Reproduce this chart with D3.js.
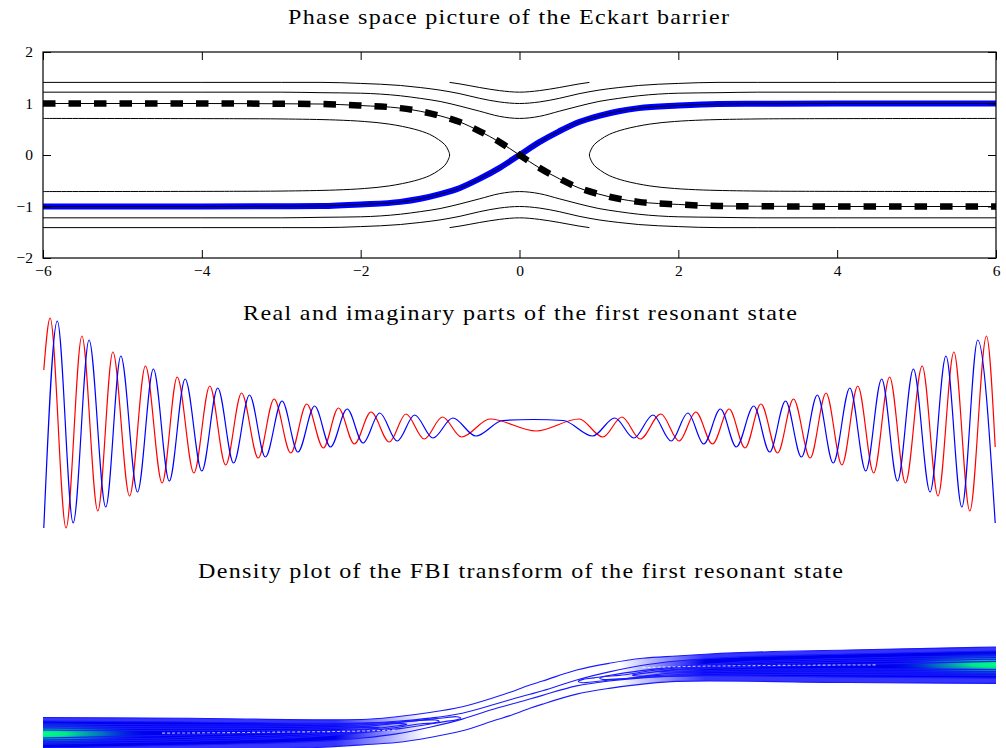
<!DOCTYPE html>
<html>
<head>
<meta charset="utf-8">
<script src="https://cdn.jsdelivr.net/npm/d3@7"></script>
<style>
  body { margin: 0; background: white; }
  text { font-family: "Liberation Serif", "Times New Roman", serif; }
</style>
</head>
<body>
<div id="chart"></div>
<script>
// ---------- panel 1: phase space of the Eckart barrier ----------
// x positions where the level curves were read off
const phaseX = [-6, -4, -3, -2.5, -2, -1.5, -1.25, -1, -0.75, -0.5, -0.25, 0, 0.25, 0.5, 0.75, 1, 1.25, 1.5, 2, 2.5, 3, 4, 6];
const levelHighUp = [1.41, 1.41, 1.41, 1.41, 1.39, 1.35, 1.31, 1.26, 1.19, 1.10, 1.03, 1.00, 1.03, 1.10, 1.19, 1.26, 1.31, 1.35, 1.39, 1.41, 1.41, 1.41, 1.41];
const levelHighDown = [-1.41, -1.41, -1.41, -1.41, -1.39, -1.35, -1.31, -1.26, -1.19, -1.10, -1.03, -1.00, -1.03, -1.10, -1.19, -1.26, -1.31, -1.35, -1.39, -1.41, -1.41, -1.41, -1.41];
const levelMidUp = [1.22, 1.22, 1.22, 1.21, 1.20, 1.15, 1.10, 1.04, 0.95, 0.85, 0.75, 0.71, 0.75, 0.85, 0.95, 1.04, 1.10, 1.15, 1.20, 1.21, 1.22, 1.22, 1.22];
const levelMidDown = [-1.22, -1.22, -1.22, -1.21, -1.20, -1.15, -1.10, -1.04, -0.95, -0.85, -0.75, -0.71, -0.75, -0.85, -0.95, -1.04, -1.10, -1.15, -1.20, -1.21, -1.22, -1.22, -1.22];
// separatrix: the blue branch goes up, the dashed one goes down
const sepUp = [-1.00, -1.00, -0.995, -0.99, -0.96, -0.91, -0.85, -0.76, -0.64, -0.46, -0.25, 0, 0.25, 0.46, 0.64, 0.76, 0.85, 0.91, 0.96, 0.99, 0.995, 1.00, 1.00];
const sepDown = [1.00, 1.00, 0.995, 0.99, 0.96, 0.91, 0.85, 0.76, 0.64, 0.46, 0.25, 0, -0.25, -0.46, -0.64, -0.76, -0.85, -0.91, -0.96, -0.99, -0.995, -1.00, -1.00];
// short arcs above / below the barrier top
const hatX = [-0.88, -0.75, -0.5, -0.25, 0, 0.25, 0.5, 0.75, 0.88];
const hatUp = [1.41, 1.38, 1.31, 1.25, 1.22, 1.25, 1.31, 1.38, 1.41];
const hatDown = [-1.41, -1.38, -1.31, -1.25, -1.22, -1.25, -1.31, -1.38, -1.41];
// reflected orbits (closed lenses on each side)
const lensXi = [0.71, 0.705, 0.70, 0.68, 0.65, 0.60, 0.50, 0.40, 0.30, 0.20, 0.10, 0, -0.10, -0.20, -0.30, -0.40, -0.50, -0.60, -0.65, -0.68, -0.70, -0.705, -0.71];
const lensRightX = [6, 3.60, 2.99, 2.32, 1.95, 1.64, 1.32, 1.13, 1.02, 0.94, 0.90, 0.88, 0.90, 0.94, 1.02, 1.13, 1.32, 1.64, 1.95, 2.32, 2.99, 3.60, 6];
const lensLeftX = [-6, -3.60, -2.99, -2.32, -1.95, -1.64, -1.32, -1.13, -1.02, -0.94, -0.90, -0.88, -0.90, -0.94, -1.02, -1.13, -1.32, -1.64, -1.95, -2.32, -2.99, -3.60, -6];
const xTicks = [-6, -4, -2, 0, 2, 4, 6];
const yTicks = [-2, -1, 0, 1, 2];

const redX = [-5.99, -5.91, -5.71, -5.51, -5.31, -5.12, -4.91, -4.71, -4.50, -4.31, -4.10, -3.90, -3.70, -3.50, -3.29, -3.09, -2.88, -2.68, -2.47, -2.28, -2.08, -1.87, -1.64, -1.43, -1.20, -0.97, -0.73, -0.37, 0.21, 0.75, 1.05, 1.29, 1.52, 1.78, 2.01, 2.22, 2.43, 2.64, 2.84, 3.04, 3.25, 3.45, 3.66, 3.86, 4.06, 4.26, 4.46, 4.66, 4.86, 5.07, 5.27, 5.47, 5.67, 5.88, 5.99];
const redY = [0.57, 1.09, -1.01, 0.91, -0.84, 0.75, -0.69, 0.61, -0.56, 0.50, -0.46, 0.41, -0.38, 0.34, -0.31, 0.28, -0.26, 0.23, -0.21, 0.19, -0.17, 0.15, -0.15, 0.13, -0.12, 0.10, -0.10, 0.08, -0.04, 0.08, -0.10, 0.10, -0.12, 0.13, -0.14, 0.15, -0.17, 0.18, -0.21, 0.23, -0.26, 0.28, -0.31, 0.34, -0.38, 0.41, -0.46, 0.50, -0.56, 0.61, -0.69, 0.75, -0.84, 0.91, -0.20];
const blueX = [-5.99, -5.82, -5.62, -5.42, -5.21, -5.02, -4.81, -4.61, -4.41, -4.21, -4.00, -3.80, -3.60, -3.40, -3.20, -2.99, -2.79, -2.58, -2.38, -2.17, -1.97, -1.76, -1.54, -1.32, -1.09, -0.84, -0.55, -0.21, 0.17, 0.55, 0.92, 1.20, 1.44, 1.68, 1.91, 2.12, 2.32, 2.53, 2.73, 2.95, 3.15, 3.35, 3.55, 3.75, 3.95, 4.16, 4.36, 4.56, 4.76, 4.96, 5.17, 5.37, 5.57, 5.77, 5.99];
const blueY = [-1.01, 1.06, -0.96, 0.87, -0.80, 0.71, -0.65, 0.58, -0.54, 0.48, -0.44, 0.39, -0.36, 0.32, -0.30, 0.26, -0.25, 0.21, -0.20, 0.18, -0.16, 0.14, -0.14, 0.12, -0.11, 0.09, -0.09, 0.065, 0.075, 0.065, -0.09, 0.09, -0.11, 0.12, -0.14, 0.14, -0.17, 0.18, -0.20, 0.21, -0.25, 0.26, -0.30, 0.32, -0.36, 0.39, -0.44, 0.48, -0.54, 0.58, -0.65, 0.71, -0.80, 0.87, -0.96];

// ---------- panel 3: FBI transform density ----------
const bandX = [-6, -4.15, -2.39, -1.98, -1.55, -1.13, -0.72, -0.29, -0.13, 0.13, 0.29, 0.72, 1.13, 1.55, 1.98, 2.39, 4.15, 6];
const outerTop = [-0.543, -0.566, -0.61, -0.60, -0.52, -0.40, -0.234, 0.051, 0.17, 0.386, 0.50, 0.814, 1.006, 1.149, 1.214, 1.271, 1.386, 1.471];
const outerBottom = [-1.581, -1.496, -1.381, -1.324, -1.259, -1.116, -0.924, -0.61, -0.496, -0.28, -0.161, 0.124, 0.29, 0.41, 0.49, 0.50, 0.456, 0.433];
const innerTop = [-0.643, -0.671, -0.71, -0.70, -0.65, -0.56, -0.42, -0.15, -0.043, 0.12, 0.22, 0.53, 0.76, 0.95, 1.07, 1.143, 1.271, 1.357];
const innerBottom = [-1.417, -1.331, -1.203, -1.13, -1.01, -0.82, -0.59, -0.28, -0.18, -0.017, 0.09, 0.36, 0.50, 0.59, 0.64, 0.65, 0.611, 0.583];
// tongue shaped contours, each runs in from the edge, turns at its tip and goes back
const tongueLeftX = [
  [-6, -2.77, -1.51, -0.94, -0.79, -0.74, -0.79, -0.94, -1.51, -2.77, -6],
  [-6, -2.77, -1.76, -1.26, -1.06, -1.01, -1.06, -1.26, -1.76, -2.77, -6],
  [-6, -2.77, -1.89, -1.53, -1.42, -1.53, -1.89, -2.77, -6],
  [-6, -2.77, -2.01, -1.76, -2.01, -2.77, -6]
];
const tongueLeftXi = [
  [-0.73, -0.75, -0.67, -0.55, -0.52, -0.56, -0.61, -0.66, -0.86, -1.11, -1.30],
  [-0.79, -0.80, -0.73, -0.63, -0.615, -0.65, -0.69, -0.73, -0.89, -1.07, -1.24],
  [-0.84, -0.85, -0.79, -0.71, -0.74, -0.78, -0.88, -1.02, -1.19],
  [-0.90, -0.90, -0.83, -0.83, -0.89, -0.96, -1.13]
];
const tongueRightX = [
  [6, 2.77, 1.51, 0.94, 0.79, 0.74, 0.79, 0.94, 1.51, 2.77, 6],
  [6, 2.77, 1.76, 1.26, 1.06, 1.01, 1.06, 1.26, 1.76, 2.77, 6],
  [6, 2.77, 1.89, 1.53, 1.42, 1.53, 1.89, 2.77, 6],
  [6, 2.77, 2.01, 1.76, 2.01, 2.77, 6]
];
const tongueRightXi = [
  [0.66, 0.68, 0.60, 0.48, 0.45, 0.49, 0.54, 0.59, 0.79, 1.04, 1.23],
  [0.72, 0.73, 0.66, 0.56, 0.545, 0.58, 0.62, 0.66, 0.82, 1.00, 1.17],
  [0.77, 0.78, 0.72, 0.64, 0.67, 0.71, 0.81, 0.95, 1.12],
  [0.83, 0.83, 0.76, 0.76, 0.82, 0.89, 1.06]
];
const ridgeLeftX = [-4.5, -3, -2, -1.55];
const ridgeLeftXi = [-0.99, -0.96, -0.93, -0.90];
const ridgeRightX = [1.55, 2, 3, 4.5];
const ridgeRightXi = [0.88, 0.91, 0.94, 0.96];
// where the density peaks (green) at both ends
const peakX = [-6, 6];
const peakXi = [-1.01, 0.97];

// ---------- layout ----------
let width = 1006, height = 748;
let left = 43, right = 996;

let svg = d3.select('#chart')
            .append('svg')
            .attr('width', width)
            .attr('height', height)
            .style('background', 'white');

const defs = svg.append('defs');

const x = d3.scaleLinear().domain([-6, 6]).range([left, right]);
const y1 = d3.scaleLinear().domain([-2, 2]).range([258, 52]);
const y2 = d3.scaleLinear().domain([-1, 1]).range([527, 327]);
const y3 = d3.scaleLinear().domain([-1, 1]).range([733.5, 663.5]);

const pts = (xs, ys) => xs.map((v, i) => [v, ys[i]]);

// titles: glyphs widened a little (the original font is wider), rest made up by spacing
const stretch = 1.12;
function title(str, x0, base, len) {
  svg.append('text')
     .attr('transform', `scale(${stretch},1)`)
     .attr('x', x0 / stretch)
     .attr('y', base)
     .attr('font-size', 21.5)
     .attr('textLength', len / stretch)
     .attr('lengthAdjust', 'spacing')
     .text(str);
}
title('Phase space picture of the Eckart barrier', 288, 24, 441);
title('Real and imaginary parts of the first resonant state', 243, 320, 554);
title('Density plot of the FBI transform of the first resonant state', 198, 578, 645);

// ---------- panel 1 ----------
defs.append('clipPath').attr('id', 'clip1')
    .append('rect')
    .attr('x', left).attr('y', 52)
    .attr('width', right - left).attr('height', 206);

const line1 = d3.line()
                .x(d => x(d[0]))
                .y(d => y1(d[1]))
                .curve(d3.curveMonotoneX);
const loop1 = d3.line()
                .x(d => x(d[0]))
                .y(d => y1(d[1]))
                .curve(d3.curveCatmullRom.alpha(0.5));

const p1 = svg.append('g').attr('clip-path', 'url(#clip1)');

// thick blue branch
p1.append('path')
  .attr('d', line1(pts(phaseX, sepUp)))
  .attr('fill', 'none')
  .attr('stroke', '#0000ff')
  .attr('stroke-width', 6);

// thick dashed branch
p1.append('path')
  .attr('d', line1(pts(phaseX, sepDown)))
  .attr('fill', 'none')
  .attr('stroke', 'black')
  .attr('stroke-width', 6.5)
  .attr('stroke-dasharray', '12.5,13');

// thin level curves on top
const thin = [
  line1(pts(phaseX, levelHighUp)), line1(pts(phaseX, levelHighDown)),
  line1(pts(phaseX, levelMidUp)), line1(pts(phaseX, levelMidDown)),
  line1(pts(phaseX, sepUp)), line1(pts(phaseX, sepDown)),
  line1(pts(hatX, hatUp)), line1(pts(hatX, hatDown)),
  loop1(pts(lensRightX, lensXi)), loop1(pts(lensLeftX, lensXi))
];
p1.selectAll('path.level')
  .data(thin)
  .enter()
  .append('path')
  .attr('class', 'level')
  .attr('d', d => d)
  .attr('fill', 'none')
  .attr('stroke', 'black')
  .attr('stroke-width', 1);

// axes, ticks pointing inwards
const fmt = d3.format('d');
function styleAxis(g) {
  g.select('.domain').remove();
  g.selectAll('line').attr('stroke', 'black');
  g.selectAll('text').attr('font-family', '"Liberation Serif", serif').attr('font-size', 15.5).attr('fill', 'black');
}
svg.append('g')
   .attr('transform', 'translate(0,258)')
   .call(d3.axisBottom(x).tickValues(xTicks).tickFormat(fmt).tickSizeInner(-8).tickSizeOuter(0).tickPadding(7))
   .call(styleAxis);
svg.append('g')
   .attr('transform', 'translate(0,52)')
   .call(d3.axisTop(x).tickValues(xTicks).tickSizeInner(-8).tickSizeOuter(0).tickFormat(''))
   .call(styleAxis);
svg.append('g')
   .attr('transform', `translate(${left},0)`)
   .call(d3.axisLeft(y1).tickValues(yTicks).tickFormat(fmt).tickSizeInner(-8).tickSizeOuter(0).tickPadding(10))
   .call(styleAxis);
svg.append('g')
   .attr('transform', `translate(${right},0)`)
   .call(d3.axisRight(y1).tickValues(yTicks).tickSizeInner(-8).tickSizeOuter(0).tickFormat(''))
   .call(styleAxis);

svg.append('rect')
   .attr('x', left).attr('y', 52)
   .attr('width', right - left).attr('height', 206)
   .attr('fill', 'none')
   .attr('stroke', 'black')
   .attr('stroke-width', 1.2);

// ---------- panel 2 ----------
const line2 = d3.line()
                .x(d => x(d[0]))
                .y(d => y2(d[1]))
                .curve(d3.curveMonotoneX);

svg.append('path')
   .attr('d', line2(pts(redX, redY)))
   .attr('fill', 'none')
   .attr('stroke', '#ff0000')
   .attr('stroke-width', 1.2);

svg.append('path')
   .attr('d', line2(pts(blueX, blueY)))
   .attr('fill', 'none')
   .attr('stroke', '#0000ff')
   .attr('stroke-width', 1.2);

// ---------- panel 3 ----------
defs.append('clipPath').attr('id', 'clip3')
    .append('rect')
    .attr('x', left).attr('y', 600)
    .attr('width', right - left).attr('height', 148);

// fades that let the solid band dissolve into separate contour lines
function fade(id, stops) {
  const g = defs.append('linearGradient')
                .attr('id', id + 'Grad')
                .attr('gradientUnits', 'userSpaceOnUse')
                .attr('x1', left).attr('x2', right)
                .attr('y1', 0).attr('y2', 0);
  stops.forEach(s => g.append('stop')
                      .attr('offset', (s[0] - left) / (right - left))
                      .attr('stop-color', s[1]));
  defs.append('mask').attr('id', id)
      .append('rect')
      .attr('x', 0).attr('y', 0)
      .attr('width', width).attr('height', height)
      .attr('fill', `url(#${id}Grad)`);
}
fade('fadeL', [[left, 'white'], [335, 'white'], [425, 'black'], [right, 'black']]);
fade('fadeR', [[left, 'black'], [620, 'black'], [705, 'white'], [right, 'white']]);

const glow = defs.append('radialGradient').attr('id', 'glow');
glow.append('stop').attr('offset', 0).attr('stop-color', '#00ff84');
glow.append('stop').attr('offset', 0.22).attr('stop-color', '#00e88a');
glow.append('stop').attr('offset', 0.55).attr('stop-color', '#0090b4').attr('stop-opacity', 0.75);
glow.append('stop').attr('offset', 1).attr('stop-color', '#0000ee').attr('stop-opacity', 0);

const area3 = (top, bottom) => d3.area()
                                 .x((d, i) => x(bandX[i]))
                                 .y0((d, i) => y3(bottom[i]))
                                 .y1((d, i) => y3(top[i]))
                                 .curve(d3.curveMonotoneX)(bandX);

const p3 = svg.append('g').attr('clip-path', 'url(#clip3)');

['fadeL', 'fadeR'].forEach(m => {
  const band = p3.append('g').attr('mask', `url(#${m})`);
  band.append('path')
      .attr('d', area3(outerTop, outerBottom))
      .attr('fill', '#3535ff');
  band.append('path')
      .attr('d', area3(innerTop, innerBottom))
      .attr('fill', '#0000ee');
});

// green maximum at both ends of the band
p3.selectAll('ellipse.peak')
  .data(pts(peakX, peakXi))
  .enter()
  .append('ellipse')
  .attr('class', 'peak')
  .attr('cx', d => x(d[0]))
  .attr('cy', d => y3(d[1]))
  .attr('rx', 112)
  .attr('ry', 13)
  .attr('fill', 'url(#glow)');

const line3 = d3.line()
                .x(d => x(d[0]))
                .y(d => y3(d[1]))
                .curve(d3.curveMonotoneX);
const loop3 = d3.line()
                .x(d => x(d[0]))
                .y(d => y3(d[1]))
                .curve(d3.curveCatmullRom.alpha(0.5));

const contours = [
  line3(pts(bandX, outerTop)), line3(pts(bandX, outerBottom)),
  line3(pts(bandX, innerTop)), line3(pts(bandX, innerBottom))
];
tongueLeftX.forEach((t, i) => contours.push(loop3(pts(t, tongueLeftXi[i]))));
tongueRightX.forEach((t, i) => contours.push(loop3(pts(t, tongueRightXi[i]))));

p3.selectAll('path.contour')
  .data(contours)
  .enter()
  .append('path')
  .attr('class', 'contour')
  .attr('d', d => d)
  .attr('fill', 'none')
  .attr('stroke', '#1a1aff')
  .attr('stroke-width', 1.1);

// thin white gaps running along the ridge
[[ridgeLeftX, ridgeLeftXi], [ridgeRightX, ridgeRightXi]].forEach(r => {
  p3.append('path')
    .attr('d', line3(pts(r[0], r[1])))
    .attr('fill', 'none')
    .attr('stroke', 'white')
    .attr('stroke-width', 1.1)
    .attr('stroke-opacity', 0.7)
    .attr('stroke-dasharray', '3,2');
});
</script>
</body>
</html>
